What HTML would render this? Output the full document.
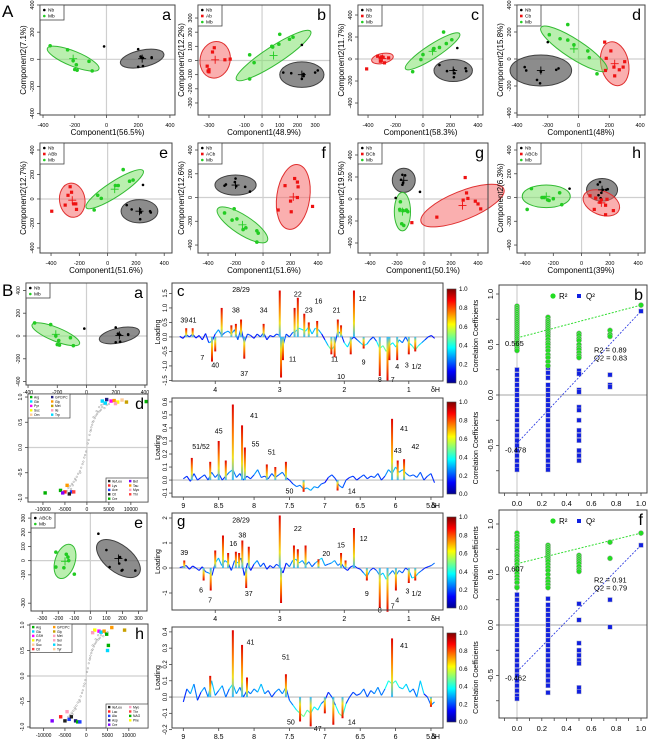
<!DOCTYPE html>
<html><head><meta charset="utf-8">
<style>
html,body{margin:0;padding:0;background:#fff;}
svg{display:block;font-family:"Liberation Sans",sans-serif;}
</style></head>
<body>
<svg id="fig" width="650" height="740" viewBox="0 0 650 740">
<defs>
<linearGradient id="jet" x1="0" y1="1" x2="0" y2="0">
<stop offset="0" stop-color="#00008f"/><stop offset="0.125" stop-color="#0000ff"/><stop offset="0.375" stop-color="#00ffff"/><stop offset="0.625" stop-color="#ffff00"/><stop offset="0.875" stop-color="#ff0000"/><stop offset="1" stop-color="#800000"/>
</linearGradient>
<linearGradient id="pkUp" x1="0" y1="1" x2="0" y2="0">
<stop offset="0" stop-color="#30b8ff"/><stop offset="0.3" stop-color="#f0e020"/><stop offset="0.6" stop-color="#ff8000"/><stop offset="1" stop-color="#e00000"/>
</linearGradient>
<linearGradient id="pkDn" x1="0" y1="0" x2="0" y2="1">
<stop offset="0" stop-color="#30b8ff"/><stop offset="0.3" stop-color="#f0e020"/><stop offset="0.6" stop-color="#ff8000"/><stop offset="1" stop-color="#e00000"/>
</linearGradient>
</defs>
<text x="2" y="17" font-size="17">A</text>
<text x="2" y="296" font-size="17">B</text>
</svg>
<script>
// ---------- PCA score data (section A and B-a/B-e) ----------
const aNbX=[-15,200,215,220,230,285,285,200,230], aNbY=[95,75,20,15,10,15,10,-55,-50];
const aMbX=[-355,-245,-210,-200,-190,-185,-110,-90], aMbY=[100,70,-10,-75,-40,-80,-15,-85];
const bNbX=[225,120,165,300,315,225,235,235], bNbY=[110,-85,-90,-85,-70,-130,-110,-95];
const bAbX=[-270,-280,-210,-180,-310,-305,-300,-300], bAbY=[90,60,5,10,-40,-75,-80,-65];
const bMbX=[-70,-45,-70,55,60,95,100,155,175], bMbY=[40,-15,-130,100,95,115,185,150,165];
const cNbX=[250,120,175,225,230,225,310,315], cNbY=[100,-55,-110,-100,-130,-165,-85,-110];
const cBbX=[-410,-330,-310,-300,-290,-310,-250,-280], cBbY=[-90,25,10,20,15,-20,10,-35];
const cMbX=[-75,-15,0,75,80,120,150,170,210], cMbY=[-115,-5,40,85,95,105,245,140,175];
const dNbX=[-200,-350,-340,-245,-270,-250,-145,-130], dNbY=[125,-60,-85,-95,-155,-180,-80,-70];
const dCbX=[170,210,180,175,230,265,235,290,300], dCbY=[125,60,5,-85,-60,-80,-125,-60,-20];
const dMbX=[-190,-120,-70,-70,-30,60,70,120], dMbY=[180,150,140,255,105,60,10,-110];
const eNbX=[250,135,170,230,235,230,300,305], eNbY=[115,-50,-85,-85,-110,-165,-100,-110];
const eABbX=[-395,-300,-280,-265,-255,-240,-225,-220], eABbY=[-100,-50,30,100,55,-40,-40,-85];
const eMbX=[-95,-70,-45,55,75,110,155,180], eMbY=[-90,30,5,110,110,240,145,155];
const fNbX=[-280,-270,-200,-205,-195,-130,-95], fNbY=[100,110,160,130,95,90,50];
const fACbX=[360,230,250,255,160,250,200,110,205], fACbY=[-75,160,130,90,100,0,-30,-105,-120];
const fMbX=[-280,-210,-225,-190,-145,-125,-45,-35,-45], fMbY=[-130,-95,-190,-180,-270,-255,-280,-300,-375];
const gNbX=[-30,-210,-170,-160,-140,-155,-160], gNbY=[65,10,175,220,215,150,130];
const gBCbX=[305,95,-90,290,315,325,380,400,420], gBCbY=[195,-165,-215,-10,55,5,-20,-45,-90];
const gMbX=[-175,-180,-155,-130,-120,-165,-150], gMbY=[-25,-95,-105,-100,-115,-225,-240];
const hNbX=[-85,115,130,150,175,185,140,120,135], hNbY=[75,110,130,65,65,70,40,20,-5];
const hABCbX=[60,100,140,180,90,170,170,225,130], hABCbY=[15,-5,-20,-15,-100,-65,-145,-110,-40];
const hMbX=[-385,-355,-280,-265,-240,-230,-200,-155,-140], hMbY=[-100,75,0,0,-20,-25,-10,40,-60];
const baNbX=[-15,200,215,220,230,285,285,200,230], baNbY=[65,75,20,15,10,15,10,-55,-50];
const baMbX=[-355,-245,-210,-200,-190,-185,-110,-90], baMbY=[115,100,0,-75,-40,-80,-15,-85];
const beNbX=[50,100,120,180,200,195,185,220,280], beNbY=[190,75,-45,-20,-65,-70,25,5,-70];
const beMbX=[-215,-150,-140,-135,-215,-165,-100], beMbY=[60,45,25,0,-45,-50,-95];

// ---------- S-plot data ----------
const sX=[200,400,600,800,1000,1200,1500,1800,2000,2300,2600,2900,3200,3500,4000,4500,1500,2200,2800,3300,3800,4200,5000,900,1300,
 -200,-400,-600,-800,-1000,-1300,-1600,-2000,-2300,-2700,-3000,-3400,-3800,-4200,-1500,-2500,-3200,-3600,-4500,-5200];
const sY=[0.08,0.15,0.25,0.32,0.4,0.45,0.52,0.58,0.63,0.66,0.7,0.72,0.75,0.8,0.78,0.84,0.6,0.72,0.8,0.84,0.86,0.88,0.86,0.35,0.5,
 -0.08,-0.15,-0.2,-0.28,-0.33,-0.4,-0.47,-0.52,-0.58,-0.62,-0.68,-0.72,-0.76,-0.8,-0.5,-0.65,-0.75,-0.82,-0.86,-0.88];
const dMarkX=[3500,4500,5500,6200,7000,4200,6500,9000,13500,8000,-9500,-6000,-5000,-4500,-3500,-4000,-5500,-3000];
const dMarkY=[0.92,0.95,0.92,0.93,0.9,0.88,0.87,0.9,0.91,0.94,-0.9,-0.85,-0.88,-0.75,-0.88,-0.92,-0.9,-0.88];
const dMarkC=[5,1,2,3,4,5,6,7,0,8,0,0,9,3,10,11,12,13];
const hMarkX=[2000,3000,3500,4200,4800,5200,5000,6000,9000,1500,-8000,-6000,-5000,-4000,-3500,-2500,-2000,-1500,-4500];
const hMarkY=[0.9,0.88,0.86,0.88,0.82,0.6,0.5,0.95,0.9,0.85,-0.88,-0.8,-0.88,-0.85,-0.8,-0.88,-0.9,-0.9,-0.7];
const hMarkC=[4,2,5,3,0,0,5,3,7,6,12,9,11,10,11,1,0,10,6];
const markPalette=['#00b000','#202080','#ff00ff','#ff9900','#ffff00','#00d8ff','#ff9fbf','#c8a000','#ffcc99','#ff2020','#2040ff','#202020','#8000ff','#ff4040'];

// ---------- Loading spectra ----------
const alPpm=[4.55,4.50,4.45,4.40,4.35,4.30,4.25,4.20,4.15,4.10,4.05,4.00,3.95,3.90,3.85,3.80,3.75,3.70,3.65,3.60,3.55,3.50,3.45,3.40,3.35,3.30,3.25,3.20,3.15,3.10,3.05,3.00,2.95,2.90,2.85,2.80,2.75,2.70,2.65,2.60,2.55,2.50,2.45,2.40,2.35,2.30,2.25,2.20,2.15,2.10,2.05,2.00,1.95,1.90,1.85,1.80,1.75,1.70,1.65,1.60,1.55,1.50,1.45,1.40,1.35,1.30,1.25,1.20,1.15,1.10,1.05,1.00,0.95,0.90,0.85,0.80,0.75,0.70,0.65,0.60];
const cNoise=[0.02,-0.05,0.08,0.0,0.1,-0.04,0.05,-0.1,0.12,-0.2,-0.15,0.1,0.25,0.05,0.15,0.2,0.1,0.25,-0.1,0.3,-0.2,0.1,0.05,-0.05,0.1,0.0,0.15,-0.1,0.05,0.0,0.1,0.05,-0.3,0.1,0.0,0.15,0.2,0.3,0.25,0.2,0.35,0.1,0.3,0.25,0.1,-0.1,-0.3,-0.45,-0.3,0.2,0.1,-0.2,-0.35,-0.1,0.0,-0.1,-0.2,-0.3,-0.25,-0.1,0.0,-0.15,-0.4,-0.3,-0.5,-0.3,-0.2,-0.35,-0.1,-0.2,0.0,-0.2,-0.3,-0.45,-0.3,-0.2,-0.1,0.0,0.05,-0.05];
const cPkPpm=[4.45,4.35,4.05,4.0,3.9,3.75,3.68,3.6,3.55,3.25,3.0,2.98,2.95,2.77,2.72,2.62,2.55,2.42,2.2,2.15,2.1,2.05,1.9,1.85,1.7,1.45,1.33,1.3,1.18,1.0,0.9];
const cPkVal=[0.3,0.3,-0.85,-0.5,1.0,0.4,0.45,0.6,-0.75,0.45,1.6,-1.4,-0.8,1.0,1.35,0.8,0.5,0.55,-0.6,-0.7,0.6,0.4,-0.6,1.6,-0.4,-1.35,-1.5,-0.8,-0.8,-0.6,-0.5];
const cLabTxt=['39','41','28/29','38','34','22','23','16','21','12','7','40','37','11','11','10','9','8','7','4','3','1/2'];
const cLabPpm=[4.48,4.35,3.6,3.68,3.25,2.72,2.55,2.4,2.12,1.72,4.2,4.0,3.55,2.8,2.15,2.05,1.7,1.45,1.25,1.18,1.03,0.88];
const cLabVal=[0.6,0.6,1.65,0.95,0.95,1.5,0.95,1.25,0.95,1.35,-0.7,-0.95,-1.25,-0.75,-0.75,-1.35,-0.85,-1.45,-1.45,-1.0,-0.95,-1.0];

const arPpm=[9.00,8.95,8.90,8.85,8.80,8.75,8.70,8.65,8.60,8.55,8.50,8.45,8.40,8.35,8.30,8.25,8.20,8.15,8.10,8.05,8.00,7.95,7.90,7.85,7.80,7.75,7.70,7.65,7.60,7.55,7.50,7.45,7.40,7.35,7.30,7.25,7.20,7.15,7.10,7.05,7.00,6.95,6.90,6.85,6.80,6.75,6.70,6.65,6.60,6.55,6.50,6.45,6.40,6.35,6.30,6.25,6.20,6.15,6.10,6.05,6.00,5.95,5.90,5.85,5.80,5.75,5.70,5.65,5.60,5.55,5.50,5.45];
const dNoise=[0.01,0.03,-0.01,0.05,0.0,0.02,0.04,0.0,0.06,0.02,0.05,0.0,0.03,0.06,0.08,0.02,0.05,0.0,0.03,0.01,0.04,0.08,0.02,0.03,0.01,0.05,0.02,0.04,0.06,0.02,0.0,-0.03,-0.05,-0.04,-0.07,-0.06,-0.08,-0.05,-0.06,-0.03,-0.02,0.02,0.04,0.01,-0.04,-0.06,0.0,0.02,0.03,0.0,0.02,0.04,0.01,0.03,0.02,0.05,0.0,0.03,0.08,0.05,0.1,0.06,0.08,0.05,0.03,0.04,0.02,0.06,0.0,0.03,0.05,-0.02];
const dPkPpm=[8.88,8.62,8.5,8.4,8.3,8.17,8.13,7.82,7.7,7.55,7.3,6.82,6.05,5.97,5.88];
const dPkVal=[0.17,0.14,0.3,0.15,0.58,0.42,0.25,0.12,0.1,0.14,-0.09,-0.08,0.47,0.15,0.16];
const dLabTxt=['51/52','45','41','55','51','50','14','41','43','42'];
const dLabPpm=[8.75,8.5,8.0,7.98,7.75,7.5,6.62,5.88,5.97,5.72];
const dLabVal=[0.26,0.38,0.5,0.28,0.22,-0.08,-0.08,0.4,0.23,0.26];

const gNoise=[0.02,0.05,0.1,-0.05,0.08,0.0,-0.1,0.05,-0.15,-0.2,-0.3,0.2,0.4,0.1,0.3,0.2,-0.1,0.3,0.2,0.4,-0.3,0.2,-0.1,0.15,0.3,0.05,0.2,-0.05,0.1,0.0,0.15,0.05,-0.2,0.2,0.05,0.3,0.35,0.2,0.3,0.1,0.25,0.05,0.2,0.3,0.4,0.1,0.15,0.2,0.3,0.1,0.2,0.0,-0.1,0.05,0.1,0.0,-0.05,-0.2,-0.35,-0.1,0.0,-0.1,-0.3,-0.2,-0.45,-0.25,-0.1,-0.3,-0.1,-0.2,0.0,-0.1,-0.4,-0.35,-0.2,-0.1,0.0,0.05,0.1,0.2];
const gPkPpm=[4.48,4.18,4.07,4.0,3.88,3.8,3.68,3.63,3.58,3.52,3.48,3.0,2.98,2.78,2.72,2.6,2.4,2.05,1.98,1.85,1.65,1.45,1.33,1.2,1.0,0.9];
const gPkVal=[0.3,-0.5,-0.9,0.7,1.3,0.6,0.65,0.6,1.1,-0.8,0.85,2.1,-1.4,0.9,0.75,0.9,0.35,0.6,0.3,1.6,-0.5,-1.6,-1.75,-0.9,-0.6,-0.5];
const gLabTxt=['39','28/29','16','38','22','20','15','12','6','7','37','9','8','7','4','3','1/2'];
const gLabPpm=[4.48,3.6,3.72,3.58,2.72,2.28,2.05,1.7,4.22,4.08,3.48,1.65,1.45,1.25,1.18,1.02,0.88];
const gLabVal=[0.65,1.95,1.0,1.35,1.6,0.6,0.95,1.2,-0.85,-1.25,-1.0,-1.0,-1.65,-1.5,-1.25,-0.9,-1.0];

const hNoise=[-0.03,0.05,0.02,0.08,-0.02,0.03,0.06,0.0,0.1,0.01,0.04,0.07,0.0,0.05,0.08,0.02,0.06,0.0,0.04,0.02,0.05,0.03,0.08,0.02,0.04,0.0,0.03,0.05,0.02,0.06,-0.02,-0.05,-0.08,-0.1,-0.12,-0.08,-0.1,-0.06,-0.08,-0.04,-0.02,0.03,0.0,-0.05,-0.1,-0.12,-0.04,0.0,0.03,0.01,0.02,0.05,0.0,0.04,0.02,0.06,0.01,0.05,0.1,0.08,0.1,0.06,0.05,0.08,0.03,0.05,0.0,0.1,0.02,0.0,-0.05,-0.03];
const hPkPpm=[8.3,8.17,8.1,7.55,7.35,7.2,7.0,6.88,6.75,6.05,8.62,5.5];
const hPkVal=[0.41,0.32,0.12,0.14,-0.15,-0.18,-0.1,-0.17,-0.13,0.36,0.13,-0.06];
const hLabTxt=['41','51','50','47','14','41'];
const hLabPpm=[8.05,7.55,7.48,7.1,6.62,5.88];
const hLabVal=[0.34,0.25,-0.15,-0.19,-0.15,0.32];

// ---------- Permutation test data ----------
const permX=[0,0.25,0.5,0.75,1.0];
const bR2=[[0.88,0.86,0.84,0.82,0.8,0.78,0.76,0.74,0.72,0.7,0.68,0.66,0.64,0.62,0.6,0.58,0.56,0.54,0.52,0.5,0.48,0.46,0.44],
 [0.77,0.74,0.72,0.7,0.68,0.66,0.64,0.62,0.6,0.58,0.55,0.52,0.5,0.47,0.44,0.4,0.37,0.33,0.29],
 [0.61,0.59,0.56,0.54,0.5,0.47,0.45,0.42,0.39,0.37],[0.64,0.6,0.58],[0.89]];
const bQ2=[[0.25,0.2,0.15,0.1,0.05,0,-0.05,-0.1,-0.15,-0.2,-0.25,-0.3,-0.35,-0.4,-0.45,-0.5,-0.55,-0.6,-0.65,-0.7,-0.74],
 [0.27,0.22,0.17,0.1,0.05,0,-0.05,-0.1,-0.15,-0.2,-0.25,-0.3,-0.35,-0.4,-0.45,-0.5,-0.55,-0.6,-0.65,-0.7,-0.74],
 [0.24,0.21,0.05,0.03,-0.12,-0.15,-0.25,-0.35,-0.4,-0.45,-0.55,-0.6,-0.65],[0.2,0.1,0.08],[0.83]];
const bInt=[0.565,-0.478], bFinal=[0.89,0.83];
const fR2=[[0.91,0.88,0.85,0.83,0.8,0.78,0.76,0.73,0.7,0.68,0.65,0.63,0.6,0.57,0.54,0.51,0.48,0.45,0.42,0.38,0.37],
 [0.79,0.77,0.75,0.73,0.71,0.69,0.67,0.65,0.63,0.6,0.57,0.54,0.5,0.46,0.43,0.4,0.37],
 [0.69,0.67,0.65,0.63,0.61,0.58,0.55,0.53],[0.82,0.66],[0.91]];
const fQ2=[[0.3,0.25,0.2,0.15,0.1,0.05,0,-0.05,-0.1,-0.15,-0.2,-0.25,-0.3,-0.35,-0.4,-0.45,-0.5,-0.55,-0.6,-0.65,-0.7,-0.73],
 [0.26,0.2,0.15,0.1,0.05,0,-0.05,-0.1,-0.15,-0.2,-0.25,-0.3,-0.35,-0.4,-0.45,-0.5,-0.55,-0.6,-0.67],
 [0.21,0.05,-0.18,-0.25,-0.3,-0.35,-0.38,-0.62,-0.66],[0.25,-0.02],[0.79]];
const fInt=[0.607,-0.462], fFinal=[0.91,0.79];

// ---------- helpers ----------
const NS='http://www.w3.org/2000/svg';
const svg=document.getElementById('fig');
function mk(tag,attrs,name,parent){
  const e=document.createElementNS(NS,tag);
  for(const k in attrs) e.setAttribute(k,attrs[k]);
  
  
  (parent||svg).appendChild(e);
  return e;
}
function tx(x,y,s,size,name,parent,extra){
  const a=Object.assign({x:x,y:y,'font-size':size,fill:'#000'},extra||{});
  const e=mk('text',a,name,parent);
  e.textContent=s;
  return e;
}
function rtx(x,y,s,size,name,parent){
  return tx(x,y,s,size,name,parent,{'text-anchor':'middle',transform:`rotate(-90 ${x} ${y})`});
}
function jet(t){
  t=Math.max(0,Math.min(1,t));
  const c=v=>Math.round(255*Math.max(0,Math.min(1,v)));
  return `rgb(${c(1.5-Math.abs(4*t-3))},${c(1.5-Math.abs(4*t-2))},${c(1.5-Math.abs(4*t-1))})`;
}
const COL={Nb:'#000',red:'#ee1111',green:'#22cc22'};
const EF={grey:['rgba(95,95,95,0.72)','#404040'],red:['rgba(245,110,110,0.55)','#e03030'],green:['rgba(130,225,110,0.55)','#33bb33']};

function scatterPanel(P){
  const [x0,y0,x1,y1]=P.box;
  const g=mk('g',{},P.id+'-panel');
  const kx=(x1-x0)/(P.xd[1]-P.xd[0]), ky=(y1-y0)/(P.yd[1]-P.yd[0]);
  const sx=v=>x0+(v-P.xd[0])*kx, sy=v=>y1-(v-P.yd[0])*ky;
  mk('line',{x1:sx(0),x2:sx(0),y1:y0,y2:y1,stroke:'#cfcfcf','stroke-width':1.2},P.id+'-zero-vertical',g);
  mk('line',{x1:x0,x2:x1,y1:sy(0),y2:sy(0),stroke:'#cfcfcf','stroke-width':1.2},P.id+'-zero-horizontal',g);
  P.groups.forEach(G=>{
    if(!G.ell) return;
    const e=G.ell, cx=sx(e[0]), cy=sy(e[1]);
    mk('ellipse',{cx:cx,cy:cy,rx:e[2]*kx,ry:e[3]*ky,fill:EF[G.ef][0],stroke:EF[G.ef][1],'stroke-width':1,transform:`rotate(${e[4]} ${cx} ${cy})`},P.id+'-'+G.name+'-ellipse',g);
  });
  P.groups.forEach(G=>{
    G.xs.forEach((v,i)=>{
      const px=sx(v), py=sy(G.ys[i]);
      if(G.shape==='sq') mk('rect',{x:px-1.6,y:py-1.6,width:3.2,height:3.2,fill:G.color},P.id+'-'+G.name+'-point',g);
      else mk('circle',{cx:px,cy:py,r:G.shape==='dot'?1.3:1.8,fill:G.color},P.id+'-'+G.name+'-point',g);
    });
    if(G.ell){
      const cx=sx(G.ell[0]), cy=sy(G.ell[1]);
      mk('path',{d:`M${cx-4},${cy}H${cx+4}M${cx},${cy-4}V${cy+4}`,stroke:G.color,'stroke-width':0.9},P.id+'-'+G.name+'-centroid',g);
    }
  });
  mk('rect',{x:x0,y:y0,width:x1-x0,height:y1-y0,fill:'none',stroke:'#444','stroke-width':1},P.id+'-plot-frame',g);
  P.xt.forEach((v,i)=>{
    mk('line',{x1:sx(v),x2:sx(v),y1:y1,y2:y1+3,stroke:'#444','stroke-width':0.8},P.id+'-x-tick',g);
    tx(sx(v),y1+(P.tlOff||12),P.xtl[i],P.tfs||5.5,P.id+'-x-tick-label',g,{'text-anchor':'middle'});
  });
  P.yt.forEach((v,i)=>{
    mk('line',{x1:x0-3,x2:x0,y1:sy(v),y2:sy(v),stroke:'#444','stroke-width':0.8},P.id+'-y-tick',g);
    rtx(x0-6,sy(v),P.ytl[i],P.tfs||5.5,P.id+'-y-tick-label',g);
  });
  if(P.xlab) tx((x0+x1)/2,y1+20,P.xlab,8,P.id+'-x-axis-title',g,{'text-anchor':'middle'});
  if(P.ylab) rtx(x0-14,(y0+y1)/2,P.ylab,8,P.id+'-y-axis-title',g);
  if(P.letter) tx(x1-4,y0+15,P.letter,16,P.id+'-panel-letter',g,{'text-anchor':'end'});
  if(P.legend){
    const lg=mk('g',{},P.id+'-legend',g);
    const n=P.groups.length;
    mk('rect',{x:x0,y:y0,width:24,height:n*6+3,fill:'#fff',stroke:'#444','stroke-width':0.8},P.id+'-legend-box',lg);
    P.groups.forEach((G,i)=>{
      const yy=y0+5+i*6;
      if(G.shape==='sq') mk('rect',{x:x0+3,y:yy-1.3,width:2.6,height:2.6,fill:G.color},P.id+'-legend-symbol',lg);
      else mk('circle',{cx:x0+4.3,cy:yy,r:1.3,fill:G.color},P.id+'-legend-symbol',lg);
      tx(x0+8,yy+1.7,G.name,4.8,P.id+'-legend-label',lg);
    });
  }
}
const grp=(name,color,shape,xs,ys,ell,ef)=>({name,color,shape,xs,ys,ell,ef});
const t4=[-400,-200,0,200,400], t4l=['-400','-200','0','200','400'];

scatterPanel({id:'a-a',box:[40,5,175,115],xd:[-419,432],yd:[-410,400],xt:t4,xtl:t4l,yt:t4,ytl:t4l,xlab:'Component1(56.5%)',ylab:'Component2(7.1%)',letter:'a',legend:true,
 groups:[grp('Nb',COL.Nb,'dot',aNbX,aNbY,[225,5,140,62,-12],'grey'),grp('Mb',COL.green,'c',aMbX,aMbY,[-210,5,175,55,22],'green')]});
scatterPanel({id:'a-b',box:[198,5,330,115],xd:[-362,384],yd:[-385,392],xt:[-300,-100,0,100,200,300],xtl:['-300','-100','0','100','200','300'],yt:[-300,-200,-100,0,100,200,300],ytl:['-300','-200','-100','0','100','200','300'],xlab:'Component1(48.9%)',ylab:'Component2(12.2%)',letter:'b',legend:true,
 groups:[grp('Nb',COL.Nb,'dot',bNbX,bNbY,[225,-100,125,90,0],'grey'),grp('Ab',COL.red,'sq',bAbX,bAbY,[-265,5,85,130,12],'red'),grp('Mb',COL.green,'c',bMbX,bMbY,[65,35,250,62,-33],'green')]});
scatterPanel({id:'a-c',box:[358,5,483,115],xd:[-473,437],yd:[-509,491],xt:t4,xtl:t4l,yt:t4,ytl:t4l,xlab:'Component1(58.3%)',ylab:'Component2(11.7%)',letter:'c',legend:true,
 groups:[grp('Nb',COL.Nb,'dot',cNbX,cNbY,[220,-105,140,100,0],'grey'),grp('Bb',COL.red,'sq',cBbX,cBbY,[-295,5,80,45,-12],'red'),grp('Mb',COL.green,'c',cMbX,cMbY,[70,70,235,62,-33],'green')]});
scatterPanel({id:'a-d',box:[517,5,645,115],xd:[-400,432],yd:[-415,400],xt:t4,xtl:t4l,yt:t4,ytl:t4l,xlab:'Component1(48%)',ylab:'Component2(15.8%)',letter:'d',legend:true,
 groups:[grp('Nb',COL.Nb,'dot',dNbX,dNbY,[-245,-85,200,115,0],'grey'),grp('Cb',COL.red,'sq',dCbX,dCbY,[235,-35,90,165,-12],'red'),grp('Mb',COL.green,'c',dMbX,dMbY,[-30,75,255,70,33],'green')]});
scatterPanel({id:'a-e',box:[40,143,172,253],xd:[-478,455],yd:[-441,457],xt:t4,xtl:t4l,yt:t4,ytl:t4l,xlab:'Component1(51.6%)',ylab:'Component2(12.7%)',letter:'e',legend:true,
 groups:[grp('Nb',COL.Nb,'dot',eNbX,eNbY,[225,-100,130,95,0],'grey'),grp('ABb',COL.red,'sq',eABbX,eABbY,[-250,-10,90,140,-8],'red'),grp('Mb',COL.green,'c',eMbX,eMbY,[50,80,240,62,-33],'green')]});
scatterPanel({id:'a-f',box:[198,143,330,253],xd:[-473,487],yd:[-467,459],xt:t4,xtl:t4l,yt:t4,ytl:t4l,xlab:'Component1(51.6%)',ylab:'Component2(12.6%)',letter:'f',legend:true,
 groups:[grp('Nb',COL.Nb,'dot',fNbX,fNbY,[-200,105,150,85,0],'grey'),grp('ACb',COL.red,'sq',fACbX,fACbY,[220,5,120,275,8],'red'),grp('Mb',COL.green,'c',fMbX,fMbY,[-150,-230,215,80,33],'green')]});
scatterPanel({id:'a-g',box:[358,143,488,253],xd:[-489,474],yd:[-491,509],xt:t4,xtl:t4l,yt:t4,ytl:t4l,xlab:'Component1(50.1%)',ylab:'Component2(19.5%)',letter:'g',legend:true,
 groups:[grp('Nb',COL.Nb,'dot',gNbX,gNbY,[-150,170,85,110,0],'grey'),grp('BCb',COL.red,'sq',gBCbX,gBCbY,[285,-60,330,130,-22],'red'),grp('Mb',COL.green,'c',gMbX,gMbY,[-160,-115,60,175,0],'green')]});
scatterPanel({id:'a-h',box:[517,143,645,253],xd:[-457,449],yd:[-467,459],xt:t4,xtl:t4l,yt:t4,ytl:t4l,xlab:'Component1(39%)',ylab:'Component2(6.3%)',letter:'h',legend:true,
 groups:[grp('Nb',COL.Nb,'dot',hNbX,hNbY,[145,65,110,95,0],'grey'),grp('ABCb',COL.red,'sq',hABCbX,hABCbY,[140,-45,135,100,22],'red'),grp('Mb',COL.green,'c',hMbX,hMbY,[-250,10,170,95,0],'green')]});
scatterPanel({id:'b-a',box:[26,283,147,385],xd:[-414,414],yd:[-430,465],xt:t4,xtl:t4l,yt:t4,ytl:t4l,letter:'a',legend:true,tfs:5,tlOff:9,
 groups:[grp('Nb',COL.Nb,'dot',baNbX,baNbY,[225,5,140,65,-12],'grey'),grp('Mb',COL.green,'c',baMbX,baMbY,[-210,15,175,60,22],'green')]});
scatterPanel({id:'b-e',box:[31,513,147,611],xd:[-370,353],yd:[-355,336],xt:[-300,-200,-100,0,100,200,300],xtl:['-300','-200','-100','0','100','200','300'],yt:[-300,-100,0,100,200,300],ytl:['-300','-100','0','100','200','300'],letter:'e',legend:true,tfs:5,tlOff:9,
 groups:[grp('ABCb',COL.Nb,'dot',beNbX,beNbY,[175,15,160,95,38],'grey'),grp('Mb',COL.green,'c',beMbX,beMbY,[-158,-5,62,125,18],'green')]});

// ---------- S-plots ----------
function sPlot(id,box,xd,yd,mx,my,mc,letter,legA,legB){
  const [x0,y0,x1,y1]=box;
  const g=mk('g',{},id+'-panel');
  const sx=v=>x0+(v-xd[0])/(xd[1]-xd[0])*(x1-x0), sy=v=>y1-(v-yd[0])/(yd[1]-yd[0])*(y1-y0);
  mk('line',{x1:sx(0),x2:sx(0),y1:y0,y2:y1,stroke:'#cfcfcf','stroke-width':1.2},id+'-zero-vertical',g);
  mk('line',{x1:x0,x2:x1,y1:sy(0),y2:sy(0),stroke:'#cfcfcf','stroke-width':1.2},id+'-zero-horizontal',g);
  sX.forEach((v,i)=>{
    mk('circle',{cx:sx(v),cy:sy(sY[i]),r:0.8,fill:'none',stroke:'#9a9a9a','stroke-width':0.5},id+'-variable-point',g);
  });
  mx.forEach((v,i)=>{
    mk('rect',{x:sx(v)-1.7,y:sy(my[i])-1.7,width:3.4,height:3.4,fill:markPalette[mc[i]]},id+'-metabolite-marker',g);
  });
  mk('rect',{x:x0,y:y0,width:x1-x0,height:y1-y0,fill:'none',stroke:'#444','stroke-width':1},id+'-plot-frame',g);
  [-10000,-5000,0,5000,10000].forEach((v,i)=>{
    mk('line',{x1:sx(v),x2:sx(v),y1:y1,y2:y1+3,stroke:'#444','stroke-width':0.8},id+'-x-tick',g);
    tx(sx(v),y1+9,['-10000','-5000','0','5000','10000'][i],5,id+'-x-tick-label',g,{'text-anchor':'middle'});
  });
  [-1,-0.5,0,0.5,1].forEach((v,i)=>{
    mk('line',{x1:x0-3,x2:x0,y1:sy(v),y2:sy(v),stroke:'#444','stroke-width':0.8},id+'-y-tick',g);
    rtx(x0-6,sy(v),['-1.0','-0.5','0.0','0.5','1.0'][i],5,id+'-y-tick-label',g);
  });
  tx(x1-4,y0+15,letter,16,id+'-panel-letter',g,{'text-anchor':'end'});
  function leg(lx,ly,cols,nm){
    const rows=Math.ceil(cols.length/2);
    const lg=mk('g',{},id+'-'+nm,g);
    mk('rect',{x:lx,y:ly,width:42,height:rows*4.4+2,fill:'#fff',stroke:'#444','stroke-width':0.7},id+'-'+nm+'-box',lg);
    cols.forEach((c,i)=>{
      const cx=lx+2+(i<rows?0:21), cy=ly+3.5+(i%rows)*4.4;
      mk('rect',{x:cx,y:cy-1.6,width:2.4,height:2.4,fill:markPalette[c[1]]},id+'-'+nm+'-symbol',lg);
      tx(cx+4,cy+0.9,c[0],3.3,id+'-'+nm+'-label',lg);
    });
  }
  leg(x0,y0,legA,'legend-top');
  leg(x1-42,y1-(Math.ceil(legB.length/2)*4.4+2),legB,'legend-bottom');
}
sPlot('b-d',[28,394,148,502],[-13400,13900],[-1.08,1.06],dMarkX,dMarkY,dMarkC,'d',
 [['Arg',0],['Gln',5],['Pyr',2],['Suc',4],['Orn',8],['GPC/PC',1],['Gly',3],['Met',7],['Ile',6],['Trp',5]],
 [['Ile/Leu',11],['Lys',9],['Ace',10],['Cit',11],['Cre',0],['Bet',12],['Tau',3],['Myo',6],['Thr',13]]);
sPlot('b-h',[30,624,148,728],[-13200,14500],[-1.02,1.02],hMarkX,hMarkY,hMarkC,'h',
 [['Arg',0],['Glu',5],['GSH',2],['Pyr',4],['Suc',8],['Cit',13],['GPC/PC',3],['Gly',7],['Met',6],['Ser',6],['Ino',5],['Tyr',8]],
 [['Ile/Leu',11],['Lac',9],['Ala',10],['Asp',1],['Cre',12],['Myo',6],['Thr',13],['NAG',0],['Phe',4]]);

// ---------- Loading spectra ----------
function spectrum(S){
  const [x0,y0,x1,y1]=S.box;
  const g=mk('g',{},S.id+'-panel');
  const sx=p=>x0+(S.xd[0]-p)/(S.xd[0]-S.xd[1])*(x1-x0);
  const sy=v=>y1-(v-S.yd[0])/(S.yd[1]-S.yd[0])*(y1-y0);
  mk('line',{x1:x0,x2:x1,y1:sy(0),y2:sy(0),stroke:'#bdbdbd','stroke-width':1.2},S.id+'-zero-line',g);
  const maxA=Math.max(...S.pv.map(Math.abs));
  S.ppm.forEach((p,i)=>{
    if(i===0) return;
    const v=(S.noise[i]+S.noise[i-1])/2;
    mk('line',{x1:sx(S.ppm[i-1]),y1:sy(S.noise[i-1]),x2:sx(p),y2:sy(S.noise[i]),stroke:jet(0.13+Math.abs(v)/maxA*1.4),'stroke-width':1.1},S.id+'-spectrum-segment',g);
  });
  S.pp.forEach((p,i)=>{
    const v=S.pv[i], ya=sy(0), yb=sy(v);
    mk('rect',{x:sx(p)-1,y:Math.min(ya,yb),width:2,height:Math.max(0.5,Math.abs(yb-ya)),fill:v>=0?'url(#pkUp)':'url(#pkDn)'},S.id+'-peak',g);
  });
  S.lt.forEach((t,i)=>{
    tx(sx(S.lp[i]),sy(S.lv[i])+3,t,7,S.id+'-peak-label',g,{'text-anchor':'middle'});
  });
  mk('rect',{x:x0,y:y0,width:x1-x0,height:y1-y0,fill:'none',stroke:'#444','stroke-width':1},S.id+'-plot-frame',g);
  S.xt.forEach((v,i)=>{
    mk('line',{x1:sx(v),x2:sx(v),y1:y1,y2:y1+3,stroke:'#444','stroke-width':0.8},S.id+'-x-tick',g);
    tx(sx(v),y1+11,S.xtl[i],7,S.id+'-x-tick-label',g,{'text-anchor':'middle'});
  });
  tx(x1-12,y1+11,'δH',7,S.id+'-x-axis-title',g);
  S.yt.forEach((v,i)=>{
    mk('line',{x1:x0-3,x2:x0,y1:sy(v),y2:sy(v),stroke:'#444','stroke-width':0.8},S.id+'-y-tick',g);
    rtx(x0-5,sy(v),S.ytl[i],6,S.id+'-y-tick-label',g);
  });
  rtx(x0-12,(y0+y1)/2,'Loading',7,S.id+'-y-axis-title',g);
  if(S.letter) tx(x0+5,y0+13,S.letter,15,S.id+'-panel-letter',g);
  const [cb0,cb1]=S.cb;
  mk('rect',{x:447,y:cb0,width:9,height:cb1-cb0,fill:'url(#jet)',stroke:'#444','stroke-width':0.6},S.id+'-colorbar',g);
  [0,0.2,0.4,0.6,0.8,1.0].forEach(v=>{
    tx(459,cb1-v*(cb1-cb0)+2.2,v.toFixed(1),6.2,S.id+'-colorbar-label',g);
  });
  rtx(478,(cb0+cb1)/2,'Correlation Coefficients',7,S.id+'-colorbar-title',g);
}
spectrum({id:'b-c',box:[172,283,443,381],xd:[4.67,0.47],yd:[-1.52,1.86],ppm:alPpm,noise:cNoise,pp:cPkPpm,pv:cPkVal,lt:cLabTxt,lp:cLabPpm,lv:cLabVal,
 xt:[4,3,2,1],xtl:['4','3','2','1'],yt:[-1.5,-1,-0.5,0,0.5,1,1.5],ytl:['-1.5','-1.0','-0.5','0.0','0.5','1.0','1.5'],letter:'c',cb:[289,383]});
spectrum({id:'b-d-loading',box:[172,398,443,497],xd:[9.16,5.33],yd:[-0.13,0.63],ppm:arPpm,noise:dNoise,pp:dPkPpm,pv:dPkVal,lt:dLabTxt,lp:dLabPpm,lv:dLabVal,
 xt:[9,8.5,8,7.5,7,6.5,6,5.5],xtl:['9','8.5','8','7.5','7','6.5','6','5.5'],yt:[-0.1,0,0.1,0.2,0.3,0.4,0.5,0.6],ytl:['-0.1','0.0','0.1','0.2','0.3','0.4','0.5','0.6'],cb:[402,494]});
spectrum({id:'b-g',box:[172,513,443,610],xd:[4.67,0.47],yd:[-1.68,2.2],ppm:alPpm,noise:gNoise,pp:gPkPpm,pv:gPkVal,lt:gLabTxt,lp:gLabPpm,lv:gLabVal,
 xt:[4,3,2,1],xtl:['4','3','2','1'],yt:[-1,0,1,2],ytl:['-1','0','1','2'],letter:'g',cb:[517,608]});
spectrum({id:'b-h-loading',box:[172,627,443,728],xd:[9.16,5.33],yd:[-0.19,0.43],ppm:arPpm,noise:hNoise,pp:hPkPpm,pv:hPkVal,lt:hLabTxt,lp:hLabPpm,lv:hLabVal,
 xt:[9,8.5,8,7.5,7,6.5,6,5.5],xtl:['9','8.5','8','7.5','7','6.5','6','5.5'],yt:[-0.2,-0.1,0,0.1,0.2,0.3,0.4],ytl:['-0.2','-0.1','0.0','0.1','0.2','0.3','0.4'],cb:[633,722]});

// ---------- Permutation plots ----------
function permPlot(id,box,zeroY,R2,Q2,inter,fin,letter){
  const [x0,y0,x1,y1]=box;
  const g=mk('g',{},id+'-panel');
  const sx=v=>517+v*124, sy=v=>zeroY-v*101;
  mk('line',{x1:sx(0),x2:sx(0),y1:y0,y2:y1,stroke:'#cfcfcf','stroke-width':1.2},id+'-zero-vertical',g);
  mk('line',{x1:x0,x2:x1,y1:sy(0),y2:sy(0),stroke:'#b8b8b8','stroke-width':1.2},id+'-zero-horizontal',g);
  permX.forEach((x,c)=>{
    Q2[c].forEach(v=>{
      mk('rect',{x:sx(x)-2.2,y:sy(v)-2.2,width:4.4,height:4.4,fill:'#1020e0',stroke:'#b0b0c8','stroke-width':0.5},id+'-q2-point',g);
    });
  });
  permX.forEach((x,c)=>{
    R2[c].forEach(v=>{
      mk('circle',{cx:sx(x),cy:sy(v),r:2.6,fill:'#22dd22',stroke:'#c0a8c0','stroke-width':0.5},id+'-r2-point',g);
    });
  });
  mk('line',{x1:sx(0),y1:sy(inter[0]),x2:sx(1),y2:sy(fin[0]),stroke:'#33dd33','stroke-width':1,'stroke-dasharray':'2,1.5'},id+'-r2-regression-line',g);
  mk('line',{x1:sx(0),y1:sy(inter[1]),x2:sx(1),y2:sy(fin[1]),stroke:'#2030e0','stroke-width':0.8,'stroke-dasharray':'2,1.5'},id+'-q2-regression-line',g);
  tx(505,sy(inter[0])+8,String(inter[0]),7.5,id+'-r2-intercept-label',g);
  tx(505,sy(inter[1])+9,String(inter[1]),7.5,id+'-q2-intercept-label',g);
  tx(594,sy(0.42),'R2 = '+fin[0],7.5,id+'-r2-value',g);
  tx(594,sy(0.34),'Q2 = '+fin[1],7.5,id+'-q2-value',g);
  mk('rect',{x:x0,y:y0,width:x1-x0,height:y1-y0,fill:'none',stroke:'#444','stroke-width':1},id+'-plot-frame',g);
  const lg=mk('g',{},id+'-legend',g);
  mk('circle',{cx:553,cy:y0+11,r:2.6,fill:'#22dd22'},id+'-legend-r2-symbol',lg);
  tx(559,y0+14,'R²',8,id+'-legend-r2-label',lg);
  mk('rect',{x:577,y:y0+9,width:4,height:4,fill:'#1020e0'},id+'-legend-q2-symbol',lg);
  tx(586,y0+14,'Q²',8,id+'-legend-q2-label',lg);
  tx(x1-4,y0+15,letter,16,id+'-panel-letter',g,{'text-anchor':'end'});
  [-0.75,-0.5,-0.25,0,0.25,0.5,0.75,1].forEach(v=>{
    mk('line',{x1:x0-3,x2:x0,y1:sy(v),y2:sy(v),stroke:'#444','stroke-width':0.8},id+'-y-tick',g);
  });
  [-0.5,0,0.5,1].forEach((v,i)=>{
    rtx(x0-6,sy(v),['-0.5','0.0','0.5','1.0'][i],7.5,id+'-y-tick-label',g);
  });
  [-0.1,0,0.1,0.2,0.3,0.4,0.5,0.6,0.7,0.8,0.9,1.0].forEach(v=>{
    mk('line',{x1:sx(v),x2:sx(v),y1:y1,y2:y1+3,stroke:'#444','stroke-width':0.8},id+'-x-tick',g);
  });
  [0,0.2,0.4,0.6,0.8,1.0].forEach(v=>{
    tx(sx(v),y1+13,v.toFixed(1),7.5,id+'-x-tick-label',g,{'text-anchor':'middle'});
  });
}
permPlot('b-b',[499,285,647,493],395,bR2,bQ2,bInt,bFinal,'b');
permPlot('b-f',[499,510,647,718],625,fR2,fQ2,fInt,fFinal,'f');
</script>
</body></html>
